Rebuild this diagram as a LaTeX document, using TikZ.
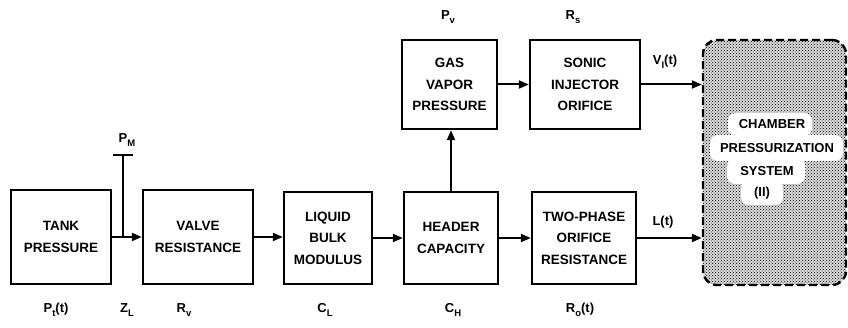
\documentclass[tikz,border=0pt]{standalone}
\usepackage{fontspec}
\setmainfont{Liberation Sans}
\usetikzlibrary{arrows.meta,patterns}
\newcommand{\lsub}[1]{\raisebox{-4pt}{\fontsize{9.5}{10}\selectfont #1}}
\begin{document}
\begin{tikzpicture}[x=1pt,y=-1pt,
  blk/.style={draw, line width=2.4pt, align=center, inner sep=0pt,
    font=\bfseries\fontsize{13.5}{21.5}\selectfont},
  arr/.style={line width=2pt, -{Triangle[length=10pt,width=8pt]}},
  lbl/.style={font=\bfseries\fontsize{13}{14}\selectfont, inner sep=1pt},
  chtxt/.style={inner sep=0pt, font=\bfseries\fontsize{13}{14}\selectfont},
  blob/.style={fill=white, rounded corners=8pt}]
\useasboundingbox (0,0) rectangle (848,328);
\clip (0,0) rectangle (848,328);
% blocks
\node[blk, minimum width=100pt, minimum height=94pt] (tank) at (61,237) {TANK\\PRESSURE};
\node[blk, minimum width=110pt, minimum height=94pt] (valve) at (198,237) {VALVE\\RESISTANCE};
\node[blk, minimum width=88pt, minimum height=92pt] (liquid) at (328,238) {LIQUID\\BULK\\MODULUS};
\node[blk, minimum width=94pt, minimum height=92pt] (header) at (451,238) {HEADER\\CAPACITY};
\node[blk, minimum width=104pt, minimum height=92pt] (two) at (584,238) {TWO-PHASE\\ORIFICE\\RESISTANCE};
\node[blk, minimum width=95pt, minimum height=89pt] (gas) at (449.5,84.5) {GAS\\VAPOR\\PRESSURE};
\node[blk, minimum width=110pt, minimum height=89pt] (sonic) at (585,84.5) {SONIC\\INJECTOR\\ORIFICE};
% chamber
\node[draw, line width=2.4pt, dash pattern=on 8pt off 4pt, rounded corners=14pt,
  preaction={fill=black!15},
  pattern=crosshatch dots, pattern color=black,
  minimum width=143pt, minimum height=245pt] (ch) at (774.5,162.5) {};
\fill[blob] (728,113) rectangle (812,136);
\fill[blob] (710,135) rectangle (843,161);
\fill[blob] (727,158) rectangle (805,184);
\fill[blob] (741,181) rectangle (783,205);
\node[chtxt] (t1) at (772,124) {CHAMBER};
\node[chtxt] (t2) at (777,148) {PRESSURIZATION};
\node[chtxt] (t3) at (767,171) {SYSTEM};
\node[chtxt] (t4) at (762,193) {(II)};
% connectors
\draw[arr] (tank) -- (valve);
\coordinate (pm) at (123,155);
\draw[line width=2pt] (pm) -- (pm |- tank.east);
\draw[line width=2pt] ([xshift=-10pt]pm) -- ([xshift=10pt]pm);
\draw[arr] (valve.east) -- (valve.east -| liquid.west);
\draw[arr] (liquid) -- (header);
\draw[arr] (header) -- (two);
\draw[arr] (header.north) -- (header.north |- gas.south);
\draw[arr] (gas) -- (sonic);
\draw[arr] (sonic.east) -- (sonic.east -| ch.west);
\draw[arr] (two.east) -- (two.east -| ch.west);
% labels
\node[lbl] (lpm) at (127,140) {P\lsub{M}};
\node[lbl] (lpt) at (56,310) {P\lsub{t}(t)};
\node[lbl] (lzl) at (127,310) {Z\lsub{L}};
\node[lbl] (lrv) at (184,310) {R\lsub{v}};
\node[lbl] (lcl) at (325,310) {C\lsub{L}};
\node[lbl] (lch) at (453,310) {C\lsub{H}};
\node[lbl] (lro) at (580,310) {R\lsub{o}(t)};
\node[lbl] (lpv) at (448,17) {P\lsub{v}};
\node[lbl] (lrs) at (573,17) {R\lsub{s}};
\node[lbl] (lvi) at (665,62) {V\lsub{I}(t)};
\node[lbl] (llt) at (663,222) {L(t)};
\end{tikzpicture}
\end{document}
